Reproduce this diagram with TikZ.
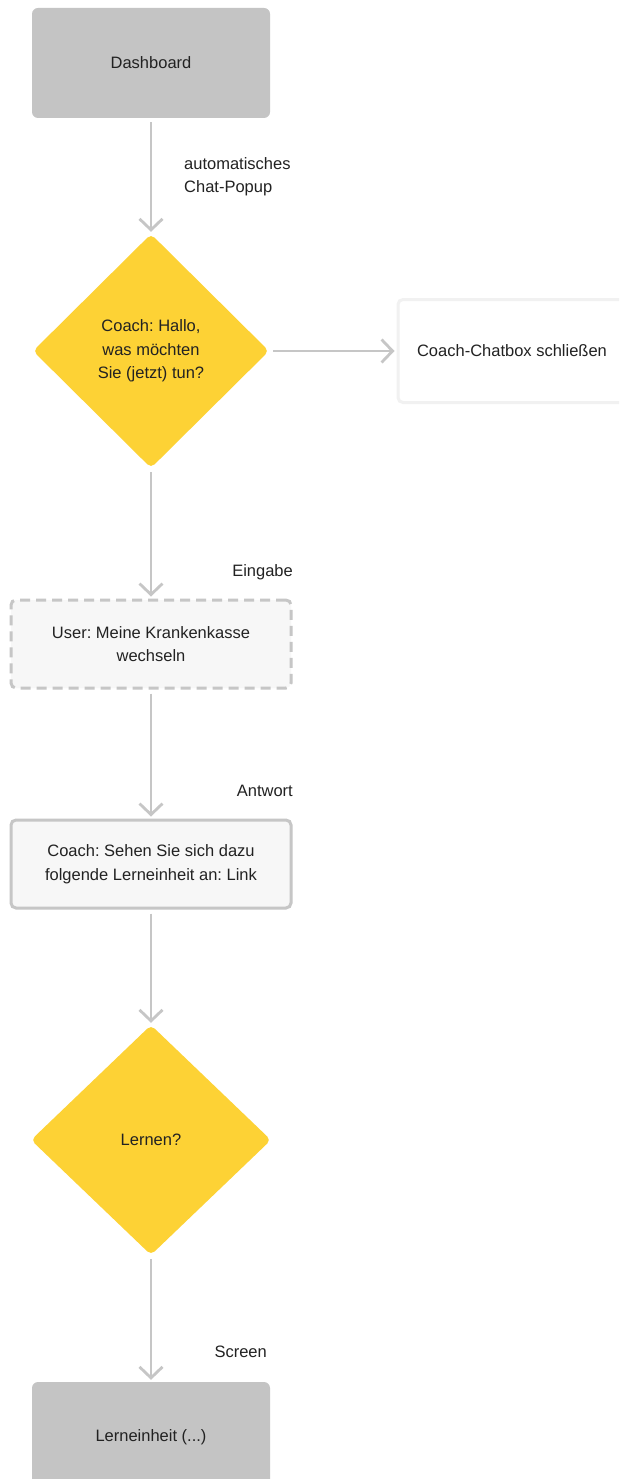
\documentclass[tikz,border=0pt]{standalone}
\usepackage{fontspec}
\setmainfont{Liberation Sans}
\usetikzlibrary{shapes.geometric,arrows.meta}
\definecolor{boxgray}{HTML}{C4C4C4}
\definecolor{linegray}{HTML}{C6C6C6}
\definecolor{flowyellow}{HTML}{FDD235}
\definecolor{paleFill}{HTML}{F7F7F7}
\definecolor{paleEdge}{HTML}{F1F1F1}
\definecolor{ink}{HTML}{222222}
\frenchspacing
\begin{document}
\begin{tikzpicture}[x=1pt,y=-1pt,
  every node/.style={font=\fontsize{16.5}{23.5}\selectfont, text=ink, inner sep=0pt, align=center},
  screenbox/.style={rectangle, rounded corners=6pt, fill=boxgray, minimum width=238pt, minimum height=110pt},
  decision/.style={diamond, fill=flowyellow, rounded corners=5pt, aspect=1},
  msgbox/.style={rectangle, rounded corners=5pt, fill=paleFill, draw=linegray, line width=3pt, minimum width=280pt, minimum height=88pt},
  inputbox/.style={msgbox, dash pattern=on 10pt off 6pt},
  closebox/.style={rectangle, rounded corners=5pt, fill=white, draw=paleEdge, line width=3pt, minimum width=228pt, minimum height=103pt},
  flow/.style={draw=linegray, line width=2.8pt, -{Straight Barb[length=11pt,width=23pt,line width=2.8pt]}, shorten <=4pt, shorten >=2pt},
  edgelabel/.style={align=left}
]
\useasboundingbox (0,0) rectangle (619,1479);
\clip (0,0) rectangle (619,1479);
\fill[white] (0,0) rectangle (619,1479);

% nodes
\node[screenbox] (dash) at (151,63) {Dashboard};
\node[decision, minimum width=236pt, minimum height=234pt] (hello) at (151,351)
  {Coach: Hallo,\\was möchten\\Sie (jetzt) tun?};
\node[closebox] (close) at (512,351) {Coach-Chatbox schließen};
\node[inputbox] (user) at (151,644) {User: Meine Krankenkasse\\wechseln};
\node[msgbox] (answer) at (151,864) {Coach: Sehen Sie sich dazu\\folgende Lerneinheit an: Link};
\node[decision, minimum width=240pt, minimum height=230pt] (learn) at (151,1140) {Lernen?};
\node[screenbox] (unit) at (151,1437) {Lerneinheit (...)};

% connectors
\draw[flow] (dash.south) -- (hello.north);
\draw[flow] (hello.east) -- (close.west);
\draw[flow] (hello.south) -- (user.north);
\draw[flow] (user.south) -- (answer.north);
\draw[flow] (answer.south) -- (learn.north);
\draw[flow] (learn.south) -- (unit.north);

% connector labels
\node[edgelabel, anchor=west] (lpopup) at (184,176.5) {automatisches\\Chat-Popup};
\node[anchor=east] (linput) at (293,572) {Eingabe};
\node[anchor=east] (lanswer) at (293,791) {Antwort};
\node[anchor=east] (lscreen) at (267,1352) {Screen};
\end{tikzpicture}
\end{document}
